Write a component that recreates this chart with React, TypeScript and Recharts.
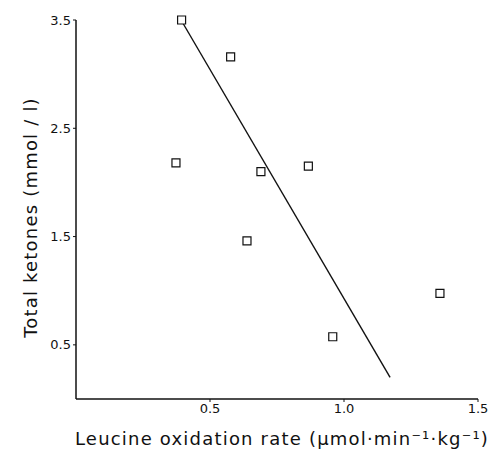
import React from "react";
import { ScatterChart, Scatter, XAxis, YAxis, ReferenceLine, Label } from "recharts";

const leucineOxidation = [0.394, 0.577, 0.373, 0.69, 0.867, 0.638, 0.958, 1.358];
const totalKetones = [3.5, 3.16, 2.18, 2.1, 2.15, 1.46, 0.575, 0.976];
const regressionX = [0.392, 1.172];
const regressionY = [3.5, 0.2];
const xTicks = [0.5, 1.0, 1.5];
const yTicks = [0.5, 1.5, 2.5, 3.5];

const points = leucineOxidation.map((x, i) => ({ x, y: totalKetones[i] }));
const segment = regressionX.map((x, i) => ({ x, y: regressionY[i] }));

const FONT = "'DejaVu Sans', sans-serif";

const XLabel = (props: any) => {
  const vb = props.viewBox;
  return (
    <text
      x={vb.x + vb.width / 2 + 5}
      y={vb.y + 46}
      textAnchor="middle"
      fontFamily={FONT}
      fontSize={18}
      letterSpacing={1.2}
      fill="#111"
    >
      Leucine oxidation rate (µmol·min⁻¹·kg⁻¹)
    </text>
  );
};

const YLabel = (props: any) => {
  const vb = props.viewBox;
  const cx = vb.x + 30;
  const cy = vb.y + vb.height / 2 + 8;
  return (
    <text
      x={cx}
      y={cy}
      transform={`rotate(-90 ${cx} ${cy})`}
      textAnchor="middle"
      dominantBaseline="central"
      fontFamily={FONT}
      fontSize={18}
      letterSpacing={1.2}
      fill="#111"
    >
      Total ketones (mmol / l)
    </text>
  );
};

export default function App() {
  return (
    <div style={{ position: "absolute", left: 0, top: 0, background: "#fff" }}>
      <ScatterChart width={490} height={461} margin={{ top: 20, right: 12, left: 0, bottom: 0 }}>
        <XAxis
          type="number"
          dataKey="x"
          domain={[0, 1.5]}
          ticks={xTicks}
          tickFormatter={(v: number) => v.toFixed(1)}
          height={62}
          axisLine={{ stroke: "#111", strokeWidth: 1.5 }}
          tickLine={{ stroke: "#111" }}
          tickSize={3}
          tick={{ fill: "#111", fontSize: 13, fontFamily: FONT }}
        >
          <Label content={<XLabel />} />
        </XAxis>
        <YAxis
          type="number"
          dataKey="y"
          domain={[0, 3.5]}
          ticks={yTicks}
          tickFormatter={(v: number) => v.toFixed(1)}
          width={76}
          axisLine={{ stroke: "#111", strokeWidth: 1.5 }}
          tickLine={{ stroke: "#111" }}
          tickSize={3}
          tick={{ fill: "#111", fontSize: 13, fontFamily: FONT }}
        >
          <Label content={<YLabel />} />
        </YAxis>
        <ReferenceLine segment={segment} stroke="#111" strokeWidth={1.4} ifOverflow="visible" />
        <Scatter
          data={points}
          shape="square"
          size={55}
          fill="#fff"
          stroke="#111"
          strokeWidth={1.2}
          isAnimationActive={false}
        />
      </ScatterChart>
    </div>
  );
}
